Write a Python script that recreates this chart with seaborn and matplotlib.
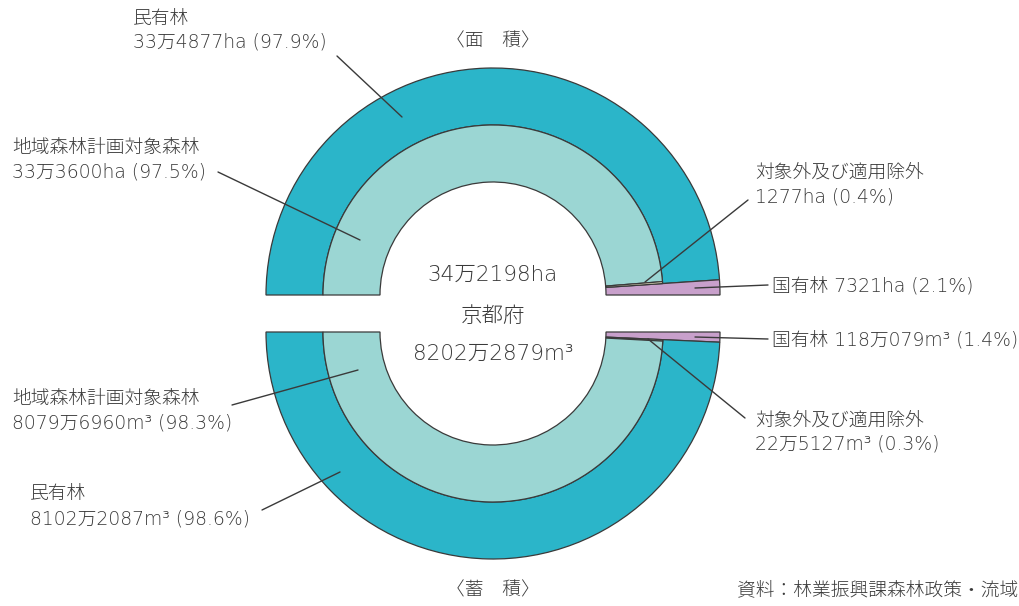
import matplotlib
matplotlib.use("Agg")
import matplotlib.pyplot as plt
import seaborn as sns

# ---- data ----
area_outer_labels = ["民有林", "国有林"]
area_outer_values = [334877, 7321]          # ha
area_inner_labels = ["地域森林計画対象森林", "対象外及び適用除外"]
area_inner_values = [333600, 1277]          # ha
area_total_text = "34万2198ha"

stock_outer_labels = ["国有林", "民有林"]
stock_outer_values = [1180079, 81022087]    # m3
stock_inner_labels = ["対象外及び適用除外", "地域森林計画対象森林"]
stock_inner_values = [225127, 80796960]     # m3
stock_total_text = "8202万2879m³"

C_DARK = "#2bb5c9"
C_LIGHT = "#9bd6d3"
C_PALE = "#f2edc8"
C_PURPLE = "#c8a0cb"
EDGE = "#3a3a3a"
TXT = "#3a3a3a"

sns.set_theme(style="white")
plt.rcParams["font.family"] = ["DejaVu Sans", "Noto Sans CJK JP"]

W, H = 1020, 606
fig = plt.figure(figsize=(W / 100, H / 100), dpi=100)
ax = fig.add_axes([0, 0, 1, 1])

def P(x, y):
    return (x, H - y)

CX = 493
TOP_C = P(CX, 295)
BOT_C = P(CX, 332)
R_OUT, R_MID, R_IN = 227, 170, 113
RING = R_OUT - R_MID
wp = dict(width=RING, edgecolor=EDGE, linewidth=0.9)

# --- upper half (area) ---
hid = sum(area_outer_values)
w_out, _ = ax.pie(area_outer_values + [hid], radius=R_OUT, center=TOP_C,
                  startangle=180, counterclock=False,
                  colors=[C_DARK, C_PURPLE, "none"], wedgeprops=wp, frame=False)
w_out[-1].set_visible(False)
w_out[1].set_width(R_OUT - R_IN)
w_in, _ = ax.pie(area_inner_values + [area_outer_values[1], hid], radius=R_MID, center=TOP_C,
                 startangle=180, counterclock=False,
                 colors=[C_LIGHT, C_PALE, "none", "none"], wedgeprops=wp, frame=False)
w_in[-1].set_visible(False)
w_in[-2].set_visible(False)

# --- lower half (stock) ---
hid2 = sum(stock_outer_values)
w_out2, _ = ax.pie(stock_outer_values + [hid2], radius=R_OUT, center=BOT_C,
                   startangle=0, counterclock=False,
                   colors=[C_PURPLE, C_DARK, "none"], wedgeprops=wp, frame=False)
w_out2[-1].set_visible(False)
w_out2[0].set_width(R_OUT - R_IN)
w_in2, _ = ax.pie([stock_outer_values[0]] + stock_inner_values + [hid2], radius=R_MID, center=BOT_C,
                  startangle=0, counterclock=False,
                  colors=["none", C_PALE, C_LIGHT, "none"], wedgeprops=wp, frame=False)
w_in2[0].set_visible(False)
w_in2[-1].set_visible(False)

ax.set_xlim(0, W)
ax.set_ylim(0, H)
ax.set_aspect("equal")
ax.axis("off")

FS = 13.5
def txt(x, y, s, fs=FS, ha="left"):
    ax.text(*P(x, y), s, fontsize=fs, color=TXT, ha=ha, va="center", fontweight="light")

def line(x1, y1, x2, y2):
    ax.plot(*zip(P(x1, y1), P(x2, y2)), color=EDGE, lw=1.0)

# center texts
txt(CX, 275, area_total_text, fs=15.5, ha="center")
txt(CX, 316, "京都府", fs=15.5, ha="center")
txt(CX, 354, stock_total_text, fs=15.5, ha="center")

txt(CX, 41, "〈面　積〉", ha="center")
txt(CX, 590, "〈蓄　積〉", ha="center")

# area labels
txt(133, 18, area_outer_labels[0])
txt(133, 42, "33万4877ha (97.9%)")
line(337, 56, 402, 117)

txt(12, 147, area_inner_labels[0])
txt(12, 172, "33万3600ha (97.5%)")
line(218, 172, 360, 240)

txt(755, 172, area_inner_labels[1])
txt(755, 197, "1277ha (0.4%)")
line(748, 200, 645, 282)

txt(772, 286, "国有林 7321ha (2.1%)")
line(695, 288, 768, 285)

# stock labels
txt(772, 340, "国有林 118万079m³ (1.4%)")
line(695, 337, 768, 339)

txt(755, 420, stock_inner_labels[0])
txt(755, 444, "22万5127m³ (0.3%)")
line(745, 418, 648, 339)

txt(12, 398, stock_inner_labels[1])
txt(12, 423, "8079万6960m³ (98.3%)")
line(232, 405, 358, 370)

txt(30, 494, stock_outer_labels[1])
txt(30, 519, "8102万2087m³ (98.6%)")
line(262, 510, 340, 472)

txt(737, 590, "資料：林業振興課森林政策・流域")

fig.savefig("out.png", dpi=100)
